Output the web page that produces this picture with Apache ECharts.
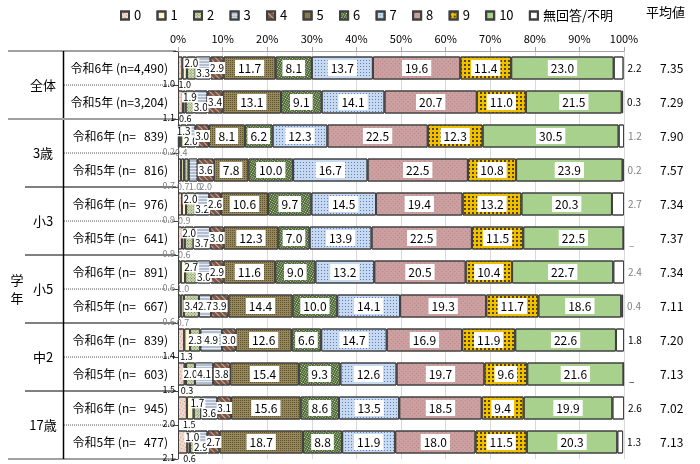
<!DOCTYPE html>
<html><head><meta charset="utf-8">
<script src="https://cdn.jsdelivr.net/npm/echarts@6/dist/echarts.min.js"></script>
<style>html,body{margin:0;padding:0;background:#fff}#c{width:700px;height:464px}</style>
</head><body><div id="c"></div>
<script>
const categories = ['0','1','2','3','4','5','6','7','8','9','10','無回答/不明'];
const rowLabels = ['令和6年 (n=4,490)','令和5年 (n=3,204)','令和6年 (n=   839)','令和5年 (n=   816)','令和6年 (n=   976)','令和5年 (n=   641)','令和6年 (n=   891)','令和5年 (n=   667)','令和6年 (n=   839)','令和5年 (n=   603)','令和6年 (n=   945)','令和5年 (n=   477)'];
const groups = ['全体','3歳','小3','小5','中2','17歳'];
const groupTitle = '学年';
const meanTitle = '平均値';
const meanValues = ['7.35','7.29','7.90','7.57','7.34','7.37','7.34','7.11','7.20','7.13','7.02','7.13'];
const xTicks = [0,10,20,30,40,50,60,70,80,90,100];
const v0  = [1.0,1.1,0.2,0.7,0.9,0.9,0.6,0.6,1.4,1.5,2.0,2.1];
const v1  = [1.0,0.6,0.4,0.7,0.9,0.6,1.0,0.7,1.3,0.3,1.5,0.6];
const v2  = [2.0,1.9,1.3,1.0,2.0,2.0,2.7,3.4,2.3,2.0,1.7,1.0];
const v3  = [3.3,3.0,2.0,2.0,3.2,3.7,3.0,2.7,4.9,4.1,3.6,2.9];
const v4  = [2.9,3.4,3.0,3.6,2.6,3.0,2.9,3.9,3.0,3.8,3.1,2.7];
const v5  = [11.7,13.1,8.1,7.8,10.6,12.3,11.6,14.4,12.6,15.4,15.6,18.7];
const v6  = [8.1,9.1,6.2,10.0,9.7,7.0,9.0,10.0,6.6,9.3,8.6,8.8];
const v7  = [13.7,14.1,12.3,16.7,14.5,13.9,13.2,14.1,14.7,12.6,13.5,11.9];
const v8  = [19.6,20.7,22.5,22.5,19.4,22.5,20.5,19.3,16.9,19.7,18.5,18.0];
const v9  = [11.4,11.0,12.3,10.8,13.2,11.5,10.4,11.7,11.9,9.6,9.4,11.5];
const v10 = [23.0,21.5,30.5,23.9,20.3,22.5,22.7,18.6,22.6,21.6,19.9,20.3];
const vNA = [2.2,0.3,1.2,0.2,2.7,0,2.4,0.4,1.8,0,2.6,1.3];
const valueSets = [v0,v1,v2,v3,v4,v5,v6,v7,v8,v9,v10,vNA];

// layout of the small labels for scores 2 and 3 on each row
const smallLayout = ['split','split','split','below','split','split','split','inline','inline','inline','split','split'];
const greyRows = [2,3,4,5,6,7];

const FONT = '"Noto Sans CJK JP","Noto Sans",sans-serif';
const fills = ['#f2d8cb','#fdf6c6','#d3dfba','#b3bfd0','#7b5646','#978857','#44612b','#c6d9f0','#cda1a1','#efc000','#a9d18e','#ffffff'];
const decals = [
  {symbol:'rect',symbolSize:1,color:'rgba(170,100,80,0.6)',dashArrayX:[1,2],dashArrayY:[1,2]},
  {symbol:'none'},
  {symbol:'rect',symbolSize:1,color:'#6b7d45',dashArrayX:[1,1],dashArrayY:[1,1]},
  {symbol:'rect',symbolSize:1,color:'#e6ecf3',dashArrayX:[1,0],dashArrayY:[1,2]},
  {symbol:'rect',symbolSize:1,color:'#c9a999',dashArrayX:[1,0],dashArrayY:[1,3]},
  {symbol:'rect',symbolSize:1,color:'#5e5230',dashArrayX:[1,1],dashArrayY:[1,1]},
  {symbol:'rect',symbolSize:1,color:'#dfead0',dashArrayX:[1,1],dashArrayY:[1,1]},
  {symbol:'rect',symbolSize:1,color:'#5d80b8',dashArrayX:[1,2],dashArrayY:[1,2]},
  {symbol:'rect',symbolSize:1,color:'#b08080',dashArrayX:[1,2],dashArrayY:[1,2]},
  {symbol:'rect',symbolSize:1,color:'#5a4500',dashArrayX:[2,2],dashArrayY:[2,2]},
  {symbol:'none'},{symbol:'none'}
];

function labelFor(s, i, v) {
  const sc = greyRows.includes(i) ? '#7f7f7f' : '#000';
  const fmt = p => p.value.toFixed(1);
  if (s === 0) return {show:true,position:[-3,'100%'],align:'right',verticalAlign:'top',fontSize:9,color:sc,offset:[0,0],formatter:fmt};
  if (s === 1) return {show:true,position:[-4,'100%'],align:'left',verticalAlign:'top',fontSize:9,color:sc,offset:[0,1],formatter:fmt};
  if (s === 2 || s === 3) {
    const lay = smallLayout[i];
    const base = {show:true,fontSize:10,color:'#000',formatter:fmt};
    if (lay === 'below') return Object.assign(base,{position:['100%','100%'],align:'left',verticalAlign:'top',offset:[s===3?2:0,1],fontSize:9,color:sc});
    if (lay === 'inline') return Object.assign(base,{position:'inside',backgroundColor:'#fff',padding:[1,1]});
    return Object.assign(base,{position:['50%', s===2?'30%':'72%'],align:'center',verticalAlign:'middle',backgroundColor:'#fff',padding:[0,1]});
  }
  if (s === 4) return {show:true,position:'inside',fontSize:10,color:'#000',backgroundColor:'#fff',padding:[1,1],formatter:fmt};
  if (s === 11) {
    if (v === 0) return {show:true,position:'right',distance:5,fontSize:10,color:sc,offset:[0,7],formatter:'–'};
    return {show:true,position:'right',distance:4,fontSize:10,color:sc,formatter:fmt};
  }
  return {show:true,position:'inside',fontSize:12,color:'#000',backgroundColor:'#fff',padding:[2,3],formatter:fmt};
}

const series = valueSets.map((arr, s) => ({
  name: categories[s],
  type: 'bar',
  stack: 'all',
  barWidth: 23,
  itemStyle: {color: fills[s], borderColor: '#404040', borderWidth: 1, decal: decals[s]},
  emphasis: {disabled: true},
  data: arr.map((v, i) => ({value: v, label: labelFor(s, i, v)}))
}));

const chart = echarts.init(document.getElementById('c'));
chart.setOption({
  animation: false,
  aria: {enabled: true, decal: {show: true}},
  textStyle: {fontFamily: FONT},
  title: {text: meanTitle, left: 646, top: 6, padding: 0, textStyle: {fontSize: 13, fontWeight: 'normal', color: '#000', fontFamily: FONT}},
  legend: {
    data: categories, left: 120, top: 9, padding: 0, itemWidth: 8, itemHeight: 8, itemGap: 15.3,
    icon: 'rect', selectedMode: false,
    textStyle: {fontSize: 13, color: '#000', fontFamily: FONT}
  },
  grid: {left: 178, right: 76, top: 51, bottom: 5, containLabel: false},
  xAxis: {
    type: 'value', position: 'top', min: xTicks[0], max: xTicks[xTicks.length-1], interval: 10,
    axisLabel: {formatter: '{value}%', fontSize: 11, color: '#000', margin: 7},
    axisLine: {show: true, lineStyle: {color: '#a6a6a6'}},
    axisTick: {show: true, length: 4, lineStyle: {color: '#a6a6a6'}},
    splitLine: {show: true, lineStyle: {color: '#d9d9d9'}}
  },
  yAxis: [{
    type: 'category', inverse: true, data: rowLabels,
    axisLabel: {fontSize: 12, color: '#000', margin: 10},
    axisLine: {show: true, lineStyle: {color: '#404040'}},
    axisTick: {show: true, length: 5, lineStyle: {color: '#404040'}}
  }, {
    type: 'category', inverse: true, position: 'right', data: meanValues,
    axisLabel: {fontSize: 12, color: '#000', margin: 36},
    axisLine: {show: false}, axisTick: {show: false}
  }],
  series: series
});

const yc = i => chart.convertToPixel({yAxisIndex: 0}, i);
const halfRow = (yc(1) - yc(0)) / 2;
const yTop = yc(0) - halfRow, yBottom = yc(rowLabels.length - 1) + halfRow;
const g = [];
const line = (x1, y1, x2, y2, style) => g.push({type: 'line', shape: {x1, y1, x2, y2}, style: Object.assign({stroke: '#000', lineWidth: 1}, style), silent: true});
line(8, yTop, 176, yTop, {stroke: '#a0a0a0', lineWidth: 2});
line(8, yBottom, 176, yBottom, {stroke: '#a0a0a0', lineWidth: 2});
line(63.5, yTop, 63.5, yBottom, {lineWidth: 1.5});
groups.forEach((name, k) => {
  const yMid = yc(2*k) + halfRow;
  line(64, yMid, 176, yMid, {stroke: '#555', lineDash: [1, 1]});
  if (k < groups.length - 1) {
    const yEnd = yc(2*k + 1) + halfRow;
    if (k === 0) line(8, yEnd, 176, yEnd, {stroke: '#a0a0a0', lineWidth: 2});
    else line(25, yEnd, 176, yEnd, {stroke: '#000', lineWidth: 1});
  }
  g.push({type: 'text', x: 43, y: yMid, style: {text: name, fontSize: 13, fill: '#000', align: 'center', verticalAlign: 'middle', fontFamily: FONT}, silent: true});
});
const yg = (yc(2) - halfRow + yBottom) / 2;
g.push({type: 'text', x: 17, y: yg, style: {text: groupTitle.split('').join('\n'), fontSize: 13, lineHeight: 18, fill: '#000', align: 'center', verticalAlign: 'middle', fontFamily: FONT}, silent: true});
chart.setOption({graphic: g});
</script></body></html>
